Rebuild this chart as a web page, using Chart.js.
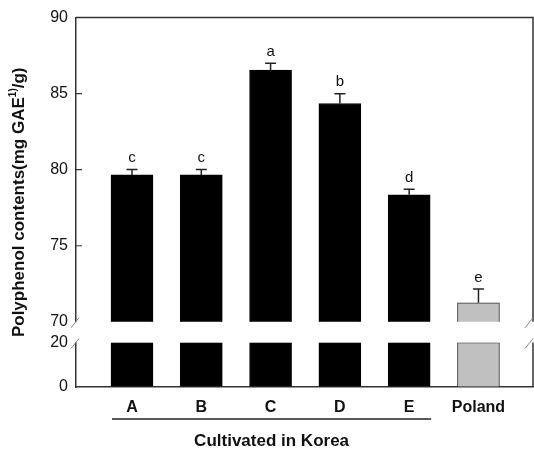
<!DOCTYPE html>
<html>
<head>
<meta charset="utf-8">
<script src="https://cdn.jsdelivr.net/npm/chart.js@4/dist/chart.umd.min.js"></script>
<style>
  html, body { margin: 0; padding: 0; background: #fff; }
  #wrap { width: 534px; height: 453px; }
</style>
</head>
<body>
<div id="wrap"><canvas id="mainChart" width="534" height="453"></canvas></div>
<script>
// values
var categories = ["A", "B", "C", "D", "E", "Poland"];
var polyphenol = [79.66, 79.66, 86.55, 84.35, 78.35, 71.25];
var stdError = [0.36, 0.36, 0.45, 0.65, 0.36, 0.9];
var groupLetters = ["c", "c", "a", "b", "d", "e"];
var upperTicks = [70, 75, 80, 85, 90];
var lowerTicks = [0, 20];
var koreaGroup = ["A", "B", "C", "D", "E"];

var FONT = "'Liberation Sans', Arial, sans-serif";
var LINE = "#333";
var barFill = categories.map(function (c) { return c === "Poland" ? "#c0c0c0" : "#000"; });
var barLine = categories.map(function (c) { return c === "Poland" ? "#333" : "#000"; });

var lowerMax = lowerTicks[lowerTicks.length - 1];

var topData = categories.map(function (c, i) { return { x: i + 1, y: polyphenol[i] }; });
var bottomData = categories.map(function (c, i) { return { x: i + 1, y: Math.min(polyphenol[i], lowerMax) }; });

// error bars, letters, ticks, breaks, frame and titles
var decorations = {
    id: "decorations",
    afterDatasetsDraw: function (chart) {
        var ctx = chart.ctx;
        var x = chart.scales.x, yTop = chart.scales.yTop, yBot = chart.scales.yBot;
        var area = chart.chartArea;
        ctx.save();

        // error bars (upper half only) + letters
        ctx.strokeStyle = "#222";
        ctx.lineWidth = 1.5;
        ctx.fillStyle = "#111";
        ctx.font = "15px " + FONT;
        ctx.textAlign = "center";
        ctx.textBaseline = "bottom";
        categories.forEach(function (c, i) {
            var px = x.getPixelForValue(i + 1);
            var y0 = yTop.getPixelForValue(polyphenol[i]);
            var y1 = yTop.getPixelForValue(polyphenol[i] + stdError[i]);
            ctx.beginPath();
            ctx.moveTo(px, y0);
            ctx.lineTo(px, y1);
            ctx.moveTo(px - 5.5, y1);
            ctx.lineTo(px + 5.5, y1);
            ctx.stroke();
            ctx.fillText(groupLetters[i], px, y1 - 4);
        });

        // frame: top and right border
        ctx.strokeStyle = LINE;
        ctx.lineWidth = 1.5;
        ctx.beginPath();
        ctx.moveTo(area.left, yTop.top);
        ctx.lineTo(area.right, yTop.top);
        ctx.lineTo(area.right, yTop.bottom);
        ctx.moveTo(area.right, yBot.top);
        ctx.lineTo(area.right, yBot.bottom);
        ctx.stroke();

        // inward tick marks
        ctx.lineWidth = 1.2;
        ctx.beginPath();
        [[yTop, upperTicks], [yBot, lowerTicks]].forEach(function (pair) {
            pair[1].forEach(function (v) {
                if (v === pair[0].min || v === pair[0].max) return;
                var py = pair[0].getPixelForValue(v);
                ctx.moveTo(area.left, py);
                ctx.lineTo(area.left + 6, py);
            });
        });
        ctx.stroke();

        // axis break marks
        ctx.strokeStyle = "#888";
        ctx.lineWidth = 1;
        ctx.beginPath();
        [area.left, area.right - 3].forEach(function (bx) {
            [yTop.bottom, yBot.top].forEach(function (by) {
                ctx.moveTo(bx - 5, by + 6);
                ctx.lineTo(bx + 3, by - 4);
            });
        });
        ctx.stroke();

        // "Cultivated in Korea" bracket
        var first = categories.indexOf(koreaGroup[0]) + 1;
        var last = categories.indexOf(koreaGroup[koreaGroup.length - 1]) + 1;
        var ux0 = x.getPixelForValue(first) - 20;
        var ux1 = x.getPixelForValue(last) + 22;
        ctx.strokeStyle = "#222";
        ctx.lineWidth = 1.5;
        ctx.beginPath();
        ctx.moveTo(ux0, 419);
        ctx.lineTo(ux1, 419);
        ctx.stroke();
        ctx.fillStyle = "#111";
        ctx.font = "bold 17px " + FONT;
        ctx.textBaseline = "middle";
        ctx.fillText("Cultivated in Korea", (ux0 + ux1) / 2, 441);

        // y-axis title with superscript
        ctx.translate(19, (area.top + area.bottom) / 2);
        ctx.rotate(-Math.PI / 2);
        var big = "bold 17px " + FONT, small = "bold 10px " + FONT;
        var p1 = "Polyphenol contents(mg GAE", sup = "1)", p2 = "/g)";
        ctx.font = big; var w1 = ctx.measureText(p1).width, w3 = ctx.measureText(p2).width;
        ctx.font = small; var w2 = ctx.measureText(sup).width;
        var sx = -(w1 + w2 + w3) / 2;
        ctx.textAlign = "left";
        ctx.textBaseline = "middle";
        ctx.font = big; ctx.fillText(p1, sx, 0);
        ctx.font = small; ctx.fillText(sup, sx + w1, -6);
        ctx.font = big; ctx.fillText(p2, sx + w1 + w2, 0);
        ctx.restore();
    }
};

function yAxis(min, max, ticks, weight) {
    return {
        type: "linear",
        position: "left",
        stack: "polyphenol",
        stackWeight: weight,
        min: min,
        max: max,
        afterBuildTicks: function (scale) {
            scale.ticks = ticks.map(function (v) { return { value: v }; });
        },
        afterFit: function (scale) { scale.width = 76; },
        grid: { drawOnChartArea: false, drawTicks: false },
        border: { color: LINE, width: 1.5 },
        ticks: { color: "#111", padding: 8, font: { family: FONT, size: 16 } }
    };
}

var chartOptions = {
    responsive: false,
    animation: false,
    layout: { padding: { top: 13, right: 1, left: 0, bottom: 0 } },
    plugins: { legend: { display: false }, tooltip: { enabled: false } },
    scales: {
        x: {
            type: "linear",
            offset: false,
            min: 0.192,
            max: 6.787,
            afterBuildTicks: function (scale) {
                scale.ticks = categories.map(function (c, i) { return { value: i + 1 }; });
            },
            afterFit: function (scale) { scale.height = 66; },
            grid: { offset: false, drawOnChartArea: false, drawTicks: false },
            border: { color: LINE, width: 1.5 },
            ticks: {
                autoSkip: false,
                maxRotation: 0,
                padding: 11,
                color: "#111",
                font: { family: FONT, size: 16, weight: "bold" },
                callback: function (v) { return categories[v - 1]; }
            }
        },
        yBot: yAxis(lowerTicks[0], lowerMax, lowerTicks, 45),
        yGap: { type: "linear", position: "left", stack: "polyphenol", stackWeight: 21, display: false },
        yTop: yAxis(upperTicks[0], upperTicks[upperTicks.length - 1], upperTicks, 308)
    }
};

var chartData = {
    datasets: [
        {
            label: "upper",
            data: topData,
            yAxisID: "yTop",
            grouped: false,
            barThickness: 42,
            backgroundColor: barFill,
            borderColor: barLine,
            borderWidth: 1
        },
        {
            label: "lower",
            data: bottomData,
            yAxisID: "yBot",
            grouped: false,
            barThickness: 42,
            backgroundColor: barFill,
            borderColor: barLine,
            borderWidth: 1
        }
    ]
};

new Chart(document.getElementById("mainChart"), {
    type: "bar",
    data: chartData,
    options: chartOptions,
    plugins: [decorations]
});
</script>
</body>
</html>
